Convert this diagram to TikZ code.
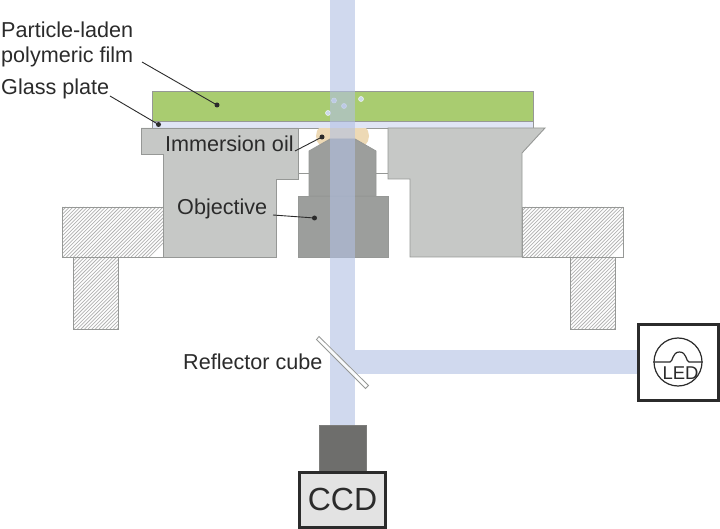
\documentclass[tikz,border=0pt]{standalone}
\usepackage{fontspec}
\setmainfont{Liberation Sans}
\definecolor{beamc}{RGB}{178,192,227}
\definecolor{edgec}{RGB}{150,152,150}
\definecolor{stagec}{RGB}{198,200,198}
\definecolor{objc}{RGB}{156,158,156}
\definecolor{filmc}{RGB}{169,204,112}
\definecolor{glassc}{RGB}{224,229,245}
\definecolor{oilc}{RGB}{237,217,181}
\definecolor{inkc}{RGB}{43,43,43}
\definecolor{camc}{RGB}{110,110,108}
\definecolor{ccdc}{RGB}{227,227,227}
\definecolor{partc}{RGB}{205,218,232}
\definecolor{hatchc}{RGB}{178,178,178}
\tikzset{
  part/.style={draw=edgec,line width=0.9pt,line join=miter},
  lab/.style={inner sep=0pt,anchor=base west,text=inkc,font=\fontsize{21.6}{24}\selectfont},
  leader/.style={draw=inkc,line width=0.9pt},
  tipdot/.style={circle,fill=inkc,inner sep=0pt,minimum size=5pt},
  beam/.style={fill=beamc,fill opacity=0.6,draw=none},
  grain/.style={circle,draw=white!70!partc,fill=partc,line width=0.5pt,inner sep=0pt,minimum size=5pt},
  framebox/.style={draw=inkc,line width=3pt,outer sep=0pt}
}
\newcommand{\hatchrect}[4]{%
  \begin{scope}
    \clip (#1,#2) rectangle (#3,#4);
    \foreach \k in {0,3.6,...,190}{
      \draw[hatchc,line width=0.75pt] (#1-100+\k,#4) -- (#1-100+\k+#4-#2,#2);
    }
  \end{scope}
  \draw[edgec,line width=0.8pt] (#1,#2) rectangle (#3,#4);
}
\begin{document}
\begin{tikzpicture}[x=1pt,y=-1pt]
\useasboundingbox (0,0) rectangle (720,529);
\fill[white] (0,0) rectangle (720,529);
% supports
\hatchrect{73}{257}{118}{329}
\hatchrect{570}{257}{615}{329}
\hatchrect{62}{207}{163}{257}
\hatchrect{522}{207}{623}{257}
% film and glass
\draw[part,fill=glassc] (152,121) rectangle (533,128);
\draw[part,fill=filmc] (152,91) rectangle (533,121);
% stage
\draw[part,fill=stagec] (141,128) -- (298,128) -- (298,179) -- (276,179) -- (276,257) -- (163,257) -- (163,154) -- (141,154) -- cycle;
\draw[part,fill=stagec] (388,128) -- (545,128) -- (522,153) -- (522,257) -- (410,257) -- (410,179) -- (388,179) -- cycle;
\draw[edgec,line width=0.8pt] (298,173) -- (388,173);
% oil
\begin{scope}
  \clip (300,128.5) rectangle (385,160);
  \fill[oilc] (329,136) circle (13);
  \fill[oilc] (356,136) circle (13);
  \fill[oilc] (325,128.5) rectangle (360,148);
\end{scope}
% objective
\draw[edgec,line width=0.8pt,fill=objc] (309,196) -- (309,151) -- (330,139) -- (355,139) -- (376,151) -- (376,196) -- cycle;
\draw[edgec,line width=0.8pt,fill=objc] (298,196) rectangle (388,257);
% grains
\node[grain] (g1) at (334,100.5) {};
\node[grain] (g2) at (344,106) {};
\node[grain] (g3) at (328,113) {};
\node[grain] (g4) at (361,99) {};
% beams
\fill[beam] (330,0) rectangle (355,425);
\fill[beam] (355,350) rectangle (638,374);
% reflector
\draw[edgec,line width=0.8pt,fill=white,fill opacity=0.85] (319,336.5) -- (368.5,385.5) -- (365.5,388.5) -- (316.5,339.5) -- cycle;
% camera
\draw[draw=camc!90,line width=0.5pt,fill=camc] (319,425) rectangle (366,472);
\node[framebox,fill=ccdc,minimum width=86pt,minimum height=54.5pt,inner sep=0pt,anchor=north west,text=inkc,font=\fontsize{32}{34}\selectfont] (ccd) at (299.5,472.5) {CCD};
% LED
\node[framebox,fill=white,minimum width=80pt,minimum height=76pt,inner sep=0pt,anchor=north west] (ledbox) at (638.5,324.5) {};
\node[circle,draw=inkc,line width=1.2pt,minimum size=48pt,inner sep=0pt] (ledc) at (678,362) {};
\draw[inkc,line width=1.2pt] (ledc.west) -- (670,362) .. controls (673,362) and (672,352) .. (679.5,352) .. controls (687,352) and (686,362) .. (689,362) -- (ledc.east);
\node[inner sep=0pt,text=inkc,font=\fontsize{18.5}{20}\selectfont] (ledt) at (680.5,373.5) {LED};
% labels
\node[lab] (l1) at (1,38) {Particle-laden};
\node[lab] (l2) at (1,62.5) {polymeric film};
\node[lab] (l3) at (1,95) {Glass plate};
\node[lab] (l4) at (165,152) {Immersion oil};
\node[lab] (l5) at (177,214.5) {Objective};
\node[lab] (l6) at (183,369.5) {Reflector cube};
% leader ends
\node[tipdot] (d1) at (217,105) {};
\node[tipdot] (d2) at (158.5,124.5) {};
\node[tipdot] (d3) at (322,137) {};
\node[tipdot] (d4) at (314.5,218) {};
\coordinate (s1) at (142,62);
\coordinate (s2) at (110,96);
\coordinate (s3) at (295,151);
\coordinate (s4) at (273,215);
\draw[leader] (s1) -- (d1.center);
\draw[leader] (s2) -- (d2.center);
\draw[leader] (s3) -- (d3.center);
\draw[leader] (s4) -- (d4.center);
\end{tikzpicture}
\end{document}
